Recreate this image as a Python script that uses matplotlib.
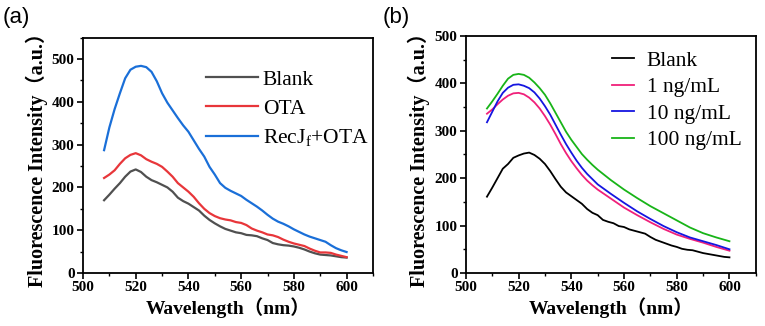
import numpy as np
import matplotlib
matplotlib.use("Agg")
import matplotlib.pyplot as plt
from matplotlib.ticker import MultipleLocator

# =====================================================
# DATA
# =====================================================

wl_a = list(range(508, 601, 2))

blank_a = [170, 183, 197, 210, 225, 237, 242, 236, 225, 217, 212, 206, 200, 190, 176,
           168, 162, 154, 146, 134, 124, 116, 109, 103, 99, 95, 93, 89, 88, 86, 81,
           77, 70, 67, 65, 64, 62, 59, 55, 50, 46, 43, 42, 41, 39, 37, 36]
ota_a = [222, 230, 240, 255, 268, 276, 280, 275, 266, 260, 255, 248, 237, 225, 210,
         200, 190, 178, 163, 150, 140, 133, 128, 125, 123, 119, 117, 112, 104, 99, 95,
         90, 88, 84, 78, 73, 69, 66, 63, 57, 52, 48, 48, 47, 43, 40, 37]
recj_a = [287, 340, 383, 420, 455, 475, 482, 484, 481, 470, 448, 420, 398, 380, 362,
          345, 330, 310, 290, 272, 248, 230, 210, 199, 192, 186, 180, 171, 163, 155, 146,
          136, 127, 120, 115, 109, 102, 96, 90, 85, 81, 77, 73, 65, 58, 53, 49]

wl_b_blank = list(range(508, 601, 2))
blank_b = [161, 180, 200, 220, 230, 243, 248, 252, 254, 249, 241, 230, 215, 198, 182,
           170, 162, 154, 146, 135, 127, 122, 112, 108, 105, 99, 97, 92, 89, 86, 83,
           76, 70, 66, 62, 58, 55, 51, 49, 48, 45, 42, 40, 38, 36, 34, 33]

wl_b = [508, 510, 512, 514, 516, 518, 520, 522, 524, 526, 528, 530, 532, 534, 536,
        538, 540, 542, 544, 546, 548, 550, 555, 560, 565, 570, 575, 580, 585, 590,
        595, 600]
c1_b = [336, 345, 356, 366, 374, 379, 380, 377, 370, 360, 347, 331, 313, 293, 272,
        253, 236, 221, 207, 195, 185, 176, 157, 138, 122, 107, 93, 81, 72, 64, 55, 47]
c10_b = [318, 340, 362, 380, 391, 397, 398, 395, 390, 381, 368, 352, 334, 313, 292,
         272, 254, 237, 222, 209, 198, 187, 167, 148, 130, 114, 99, 86, 75, 67, 59, 50]
c100_b = [347, 362, 378, 395, 410, 418, 420, 418, 412, 402, 390, 376, 358, 338, 318,
          298, 281, 266, 251, 239, 228, 218, 196, 176, 158, 141, 126, 111, 96, 84, 75, 67]

# =====================================================
# STYLE
# =====================================================

serif = ["Liberation Serif", "Noto Sans CJK SC"]
plt.rcParams["font.family"] = serif
plt.rcParams["font.weight"] = "bold"
plt.rcParams["axes.linewidth"] = 1.3
plt.rcParams["mathtext.fontset"] = "custom"
plt.rcParams["mathtext.rm"] = "Liberation Serif:weight=normal"
legend_font = {"family": "Liberation Serif", "weight": "normal", "size": 15.5}

fig = plt.figure(figsize=(7.65, 3.26), dpi=100)
ax_a = fig.add_axes([0.1085, 0.1626, 0.379, 0.722])
ax_b = fig.add_axes([0.609, 0.1626, 0.379, 0.727])


def style_axis(ax, ymax):
    ax.set_xlim(500, 610)
    ax.set_ylim(0, ymax)
    ax.xaxis.set_major_locator(MultipleLocator(20))
    ax.xaxis.set_minor_locator(MultipleLocator(10))
    ax.yaxis.set_major_locator(MultipleLocator(100))
    ax.yaxis.set_minor_locator(MultipleLocator(50))
    ax.tick_params(which="major", direction="out", length=4, width=1.2,
                   labelsize=11, pad=2)
    ax.tick_params(which="minor", direction="out", length=2.5, width=1.0)
    ax.set_xlabel("Wavelength（nm）", fontsize=14, fontweight="bold",
                  family=serif, labelpad=2)
    ax.set_ylabel("Fluorescence Intensity（a.u.）", fontsize=14.5, fontweight="bold",
                  family=serif, labelpad=3)


# =====================================================
# PANEL A
# =====================================================

ax_a.plot(wl_a, blank_a, color="#505050", lw=1.6, label="Blank")
ax_a.plot(wl_a, ota_a, color="#e8363a", lw=1.6, label="OTA")
ax_a.plot(wl_a, recj_a, color="#1a6fd8", lw=1.6, label="RecJ$_\\mathrm{f}$+OTA")
style_axis(ax_a, 550)
ax_a.legend(loc="upper right", bbox_to_anchor=(1.015, 0.90), frameon=False,
            prop=legend_font, handlelength=2.4, handletextpad=0.25,
            labelspacing=0.4, borderaxespad=0.0)

# =====================================================
# PANEL B
# =====================================================

ax_b.plot(wl_b_blank, blank_b, color="black", lw=1.3, label="Blank")
ax_b.plot(wl_b, c1_b, color="#f0207a", lw=1.3, label="1 ng/mL")
ax_b.plot(wl_b, c10_b, color="#1515e0", lw=1.3, label="10 ng/mL")
ax_b.plot(wl_b, c100_b, color="#18b418", lw=1.3, label="100 ng/mL")
style_axis(ax_b, 500)
ax_b.legend(loc="upper right", bbox_to_anchor=(0.98, 0.975), frameon=False,
            prop=legend_font, handlelength=1.0, handletextpad=0.6,
            labelspacing=0.3, borderaxespad=0.0)

# panel letters
fig.text(0.003, 0.945, "(a)", fontsize=16, fontweight="normal",
         family="Liberation Sans", va="center")
fig.text(0.500, 0.945, "(b)", fontsize=16, fontweight="normal",
         family="Liberation Sans", va="center")

plt.savefig("out.png", dpi=100)
plt.close()
